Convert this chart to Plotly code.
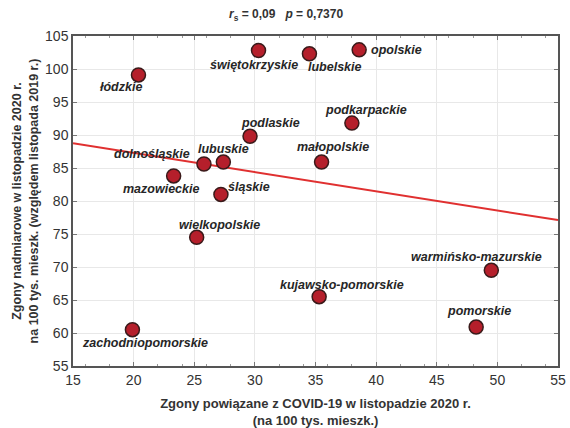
import numpy as np
import plotly.graph_objects as go

# ---- data ----
regions = ["łódzkie", "świętokrzyskie", "lubelskie", "opolskie", "podkarpackie",
           "podlaskie", "małopolskie", "lubuskie", "dolnośląskie", "mazowieckie",
           "śląskie", "wielkopolskie", "zachodniopomorskie", "kujawsko-pomorskie",
           "warmińsko-mazurskie", "pomorskie"]
covid_deaths = [20.4, 30.3, 34.5, 38.6, 38.0, 29.6, 35.5, 27.4, 25.8, 23.3,
                27.2, 25.2, 19.9, 35.3, 49.5, 48.25]
excess_deaths = [99.1, 102.8, 102.3, 102.9, 91.8, 89.8, 85.9, 85.9, 85.6, 83.8,
                 81.0, 74.5, 60.5, 65.5, 69.5, 60.9]
x_ticks = [15, 20, 25, 30, 35, 40, 45, 50, 55]
y_ticks = [55, 60, 65, 70, 75, 80, 85, 90, 95, 100, 105]
stats_text = "<i>r</i><sub>s</sub> = 0,09   <i>p</i> = 0,7370"

# label offsets in pixels (style)
label_dx = [-17, -5, 26, 37, 14, 20, 11, 0, -52, -13, 28, 23, 13, 23, -15, 3]
label_dy = [-12, -14, -13, 0, 13, 13, 15, 13, 10, -13, 7, 12, -13, 12, 13, 16]

FONT = "Liberation Sans, Arial, sans-serif"

slope, intercept = np.polyfit(covid_deaths, excess_deaths, 1)
xl = np.array([x_ticks[0], x_ticks[-1]], dtype=float)
yl = intercept + slope * xl

fig = go.Figure()
fig.add_trace(go.Scatter(x=xl, y=yl, mode="lines",
                         line=dict(color="#e03030", width=2), hoverinfo="skip",
                         showlegend=False))
fig.add_trace(go.Scatter(x=covid_deaths, y=excess_deaths, mode="markers",
                         marker=dict(size=14, color="#b51f2b",
                                     line=dict(color="#3a1a1a", width=1.5)),
                         text=regions, showlegend=False))

for name, x, y, dx, dy in zip(regions, covid_deaths, excess_deaths, label_dx, label_dy):
    fig.add_annotation(x=x, y=y, text="<b><i>" + name + "</i></b>", showarrow=False,
                       xshift=dx, yshift=dy,
                       font=dict(family=FONT, size=12.5, color="#262626"))

fig.add_annotation(xref="paper", yref="paper", x=0.44, y=1.0, yanchor="middle", yshift=21,
                   text="<b>" + stats_text + "</b>", showarrow=False,
                   font=dict(family=FONT, size=12, color="#333333"))

axis_common = dict(showgrid=True, gridcolor="#e8e8e8", gridwidth=1, automargin=False,
                   showline=True, linecolor="#555555", linewidth=1.5, mirror="ticks",
                   ticks="inside", ticklen=4, tickcolor="#777777",
                   minor=dict(ticks="inside", ticklen=2, tickcolor="#999999", showgrid=False),
                   zeroline=False,
                   tickfont=dict(family=FONT, size=14, color="#333333"))

fig.update_xaxes(range=[15, 55], tickvals=x_ticks, ticktext=[str(v) for v in x_ticks],
                 title=dict(text="<b>Zgony powiązane z COVID-19 w listopadzie 2020 r.<br>(na 100 tys. mieszk.)</b>",
                            font=dict(family=FONT, size=13, color="#333333"), standoff=14),
                 **axis_common)
fig.update_yaxes(range=[55, 105], tickvals=y_ticks, ticktext=[str(v) for v in y_ticks],
                 title=dict(text="<b>Zgony nadmiarowe w listopadzie 2020 r.<br>na 100 tys. mieszk. (względem listopada 2019 r.)</b>",
                            font=dict(family=FONT, size=12.5, color="#333333"), standoff=4),
                 **axis_common)

fig.update_layout(width=570, height=428, margin=dict(l=73, r=12, t=36, b=62),
                  plot_bgcolor="white", paper_bgcolor="white",
                  font=dict(family=FONT))
fig.write_html("out.html", config={"displayModeBar": False},
               post_script="document.body.style.margin='0';document.body.style.overflow='hidden';")
